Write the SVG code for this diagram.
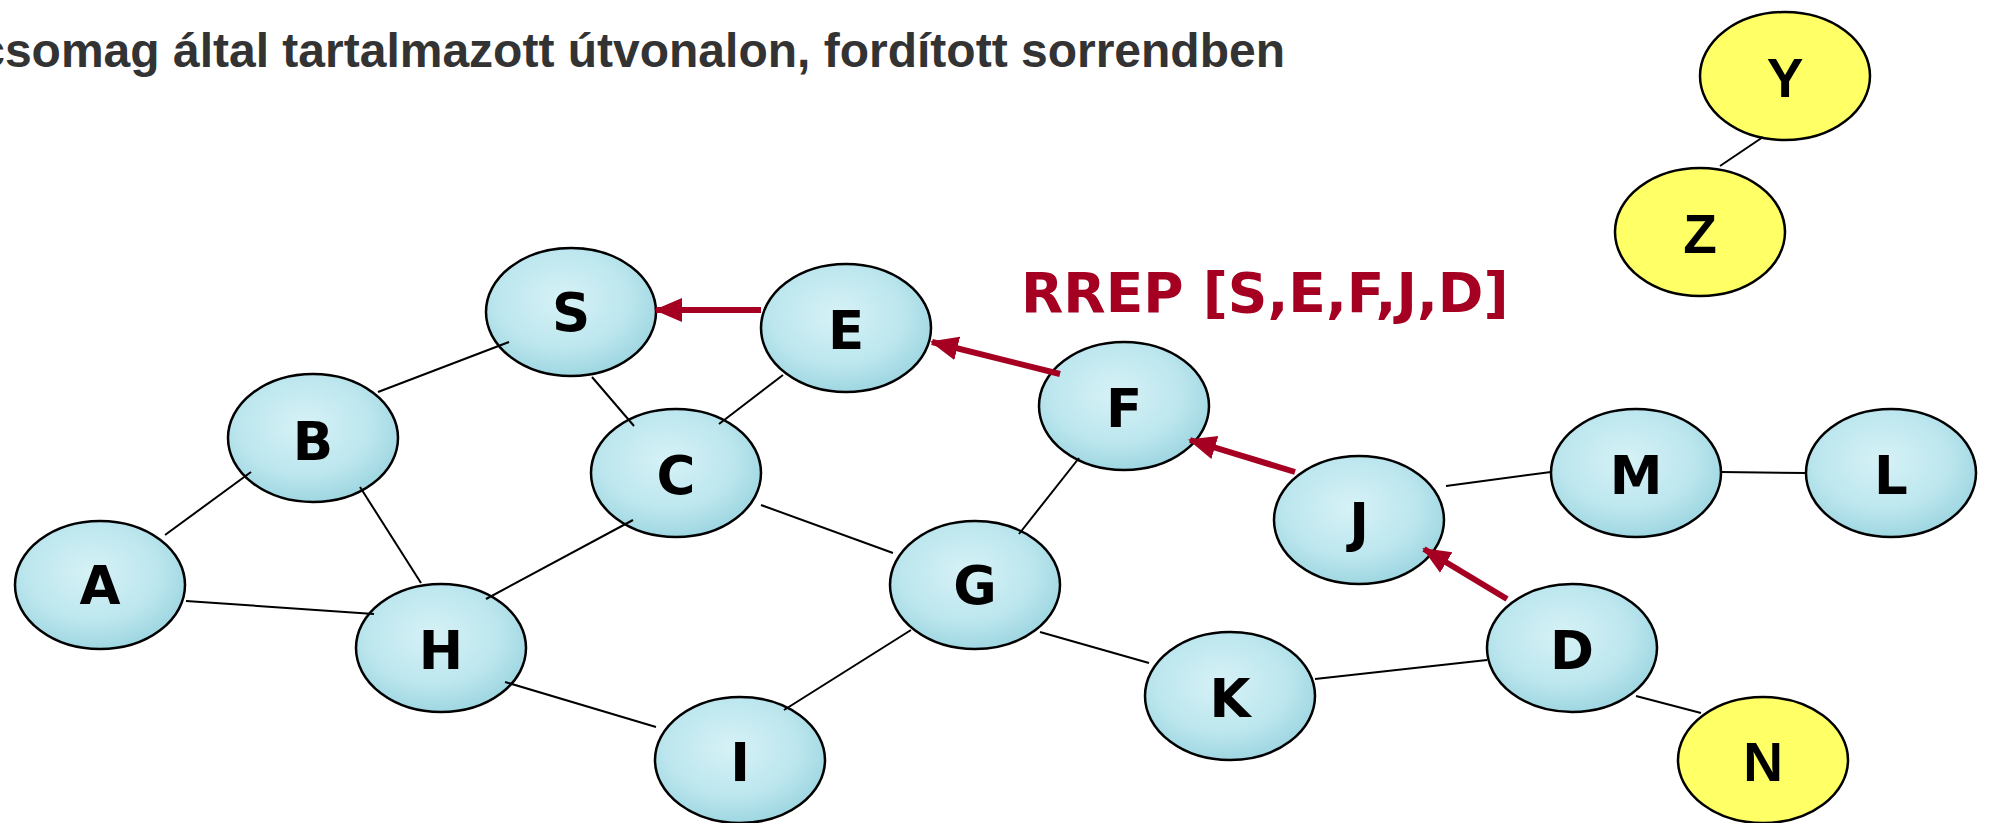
<svg xmlns="http://www.w3.org/2000/svg" width="1989" height="823" viewBox="0 0 1989 823">
<style>
.blue{fill:url(#water);stroke:#000;stroke-width:2.5}
.yel{fill:#FFFF66;stroke:#000;stroke-width:2.5}
.lbl{font-family:"DejaVu Sans",Verdana,sans-serif;font-weight:bold;font-size:53px;fill:#000;text-anchor:middle;dominant-baseline:central}
.lbly{font-family:"Liberation Sans",Arial,sans-serif;font-weight:bold;font-size:55px;fill:#000;text-anchor:middle;dominant-baseline:central}
.ln{stroke:#000;stroke-width:2;fill:none}
.arr{stroke:#A50021;stroke-width:6;fill:none;marker-end:url(#ah)}
</style>
<defs>
<radialGradient id="water" cx="45%" cy="40%" r="65%">
<stop offset="0" stop-color="#D6F2F6"/>
<stop offset="0.6" stop-color="#BCE6EE"/>
<stop offset="1" stop-color="#98D3DE"/>
</radialGradient>
<marker id="ah" markerUnits="userSpaceOnUse" markerWidth="28" markerHeight="28" viewBox="0 0 28 28" refX="26" refY="14" orient="auto">
<path d="M0,2 L28,14 L0,26 Z" fill="#A50021"/>
</marker>
</defs>
<rect width="1989" height="823" fill="#fff"/>
<text x="1285" y="67" font-family="'Liberation Sans',Arial,sans-serif" font-weight="bold" font-size="48" fill="#333" text-anchor="end">csomag által tartalmazott útvonalon, fordított sorrendben</text>
<text x="1021" y="312" font-family="'DejaVu Sans',Verdana,sans-serif" font-weight="bold" font-size="55" fill="#A50021">RREP [S,E,F,J,D]</text>
<g id="node-A"><ellipse class="blue" cx="100" cy="585" rx="85" ry="64"/><text class="lbl" x="100" y="585">A</text></g>
<g id="node-B"><ellipse class="blue" cx="313" cy="438" rx="85" ry="64"/><text class="lbl" x="313" y="441">B</text></g>
<g id="node-S"><ellipse class="blue" cx="571" cy="312" rx="85" ry="64"/><text class="lbl" x="571" y="312">S</text></g>
<g id="node-E"><ellipse class="blue" cx="846" cy="328" rx="85" ry="64"/><text class="lbl" x="846" y="330">E</text></g>
<g id="node-C"><ellipse class="blue" cx="676" cy="473" rx="85" ry="64"/><text class="lbl" x="676" y="475">C</text></g>
<g id="node-F"><ellipse class="blue" cx="1124" cy="406" rx="85" ry="64"/><text class="lbl" x="1124" y="408">F</text></g>
<g id="node-G"><ellipse class="blue" cx="975" cy="585" rx="85" ry="64"/><text class="lbl" x="975" y="585">G</text></g>
<g id="node-H"><ellipse class="blue" cx="441" cy="648" rx="85" ry="64"/><text class="lbl" x="441" y="650">H</text></g>
<g id="node-I"><ellipse class="blue" cx="740" cy="760" rx="85" ry="63"/><text class="lbl" x="740" y="762">I</text></g>
<g id="node-K"><ellipse class="blue" cx="1230" cy="696" rx="85" ry="64"/><text class="lbl" x="1230" y="698">K</text></g>
<g id="node-J"><ellipse class="blue" cx="1359" cy="520" rx="85" ry="64"/><text class="lbl" x="1359" y="522">J</text></g>
<g id="node-M"><ellipse class="blue" cx="1636" cy="473" rx="85" ry="64"/><text class="lbl" x="1636" y="475">M</text></g>
<g id="node-L"><ellipse class="blue" cx="1891" cy="473" rx="85" ry="64"/><text class="lbl" x="1891" y="475">L</text></g>
<g id="node-D"><ellipse class="blue" cx="1572" cy="648" rx="85" ry="64"/><text class="lbl" x="1572" y="650">D</text></g>
<g id="node-N"><ellipse class="yel" cx="1763" cy="760" rx="85" ry="63"/><text class="lbly" x="1763" y="762">N</text></g>
<g id="node-Y"><ellipse class="yel" cx="1785" cy="76" rx="85" ry="64"/><text class="lbly" x="1785" y="78">Y</text></g>
<g id="node-Z"><ellipse class="yel" cx="1700" cy="232" rx="85" ry="64"/><text class="lbly" x="1700" y="234">Z</text></g>
<g id="connectors">
<line class="ln" x1="378" y1="392" x2="509" y2="342"/>
<line class="ln" x1="592" y1="377" x2="634" y2="426"/>
<line class="ln" x1="783" y1="375" x2="719" y2="424"/>
<line class="ln" x1="165" y1="535" x2="251" y2="472"/>
<line class="ln" x1="360" y1="487" x2="421" y2="583"/>
<line class="ln" x1="186" y1="601" x2="374" y2="614"/>
<line class="ln" x1="633" y1="520" x2="486" y2="599"/>
<line class="ln" x1="761" y1="505" x2="893" y2="553"/>
<line class="ln" x1="1079" y1="458" x2="1019" y2="534"/>
<line class="ln" x1="505" y1="682" x2="656" y2="727" stroke-width="3"/>
<line class="ln" x1="784" y1="710" x2="911" y2="630" stroke-width="3"/>
<line class="ln" x1="1040" y1="632" x2="1149" y2="663" stroke-width="3"/>
<line class="ln" x1="1315" y1="679" x2="1487" y2="660" stroke-width="2.5"/>
<line class="ln" x1="1446" y1="486" x2="1551" y2="472"/>
<line class="ln" x1="1721" y1="472" x2="1806" y2="473"/>
<line class="ln" x1="1636" y1="696" x2="1701" y2="713"/>
<line class="ln" x1="1763" y1="137" x2="1720" y2="166"/>
<line class="arr" x1="761" y1="310" x2="656" y2="310"/>
<line class="arr" x1="1060" y1="374" x2="932" y2="342"/>
<line class="arr" x1="1295" y1="472" x2="1190" y2="440"/>
<line class="arr" x1="1507" y1="599" x2="1424" y2="549"/>
</g>
</svg>
